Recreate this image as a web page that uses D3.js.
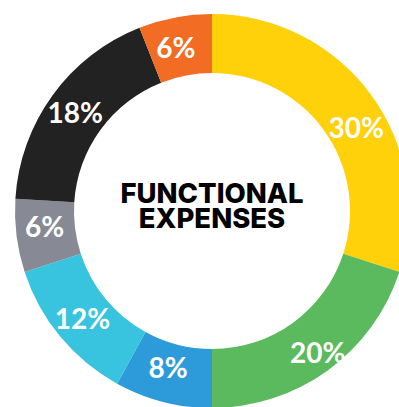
<!DOCTYPE html>
<html><head><meta charset="utf-8">
<script src="https://cdn.jsdelivr.net/npm/d3@7"></script>
<style>html,body{margin:0;padding:0;background:#fff;overflow:hidden}</style>
</head><body>
<svg id="c" width="399" height="407"></svg>
<script>
const categories = ["A","B","C","D","E","F","G"];
const values = [30, 20, 8, 12, 6, 18, 6];
const labels = ["30%","20%","8%","12%","6%","18%","6%"];
const colors = ["#FED10A","#5CBA5E","#2D9BD9","#38C3DF","#878A94","#222222","#F26C24"];
const titleLines = ["FUNCTIONAL","EXPENSES"];

const svg = d3.select("#c");
const cx = 212, cy = 211, rOuter = 197, rInner = 138;
const g = svg.append("g").attr("transform", `translate(${cx},${cy})`);
const pie = d3.pie().sort(null).value(d => d)(values);
const arc = d3.arc().innerRadius(rInner).outerRadius(rOuter);
g.selectAll("path").data(pie).join("path")
  .attr("d", arc).attr("fill", (d,i) => colors[i]);

// label placement tweaks (angle in degrees, radius in px)
const nudge = [5.7, -0.9, 1.3, 0, 2.1, 0, -1.6];
const lrad = [167, 176, 162, 168, 168, 169, 168];
const ang = (d,i) => (d.startAngle + d.endAngle)/2 + nudge[i]*Math.PI/180;
g.selectAll("text.lbl").data(pie).join("text").attr("class","lbl")
  .attr("x", (d,i) => lrad[i]*Math.sin(ang(d,i)))
  .attr("y", (d,i) => -lrad[i]*Math.cos(ang(d,i)))
  .attr("text-anchor","middle").attr("dominant-baseline","central")
  .attr("fill","#fff").attr("font-family","Lato, sans-serif").attr("font-weight","700")
  .attr("font-size", 28).text((d,i) => labels[i]);

const t = g.append("text").attr("text-anchor","middle").attr("font-family","Inter, sans-serif")
  .attr("font-weight","800").attr("font-size",27.5).attr("fill","#000");
titleLines.forEach((s,i) => t.append("tspan").attr("x",0).attr("y", -8 + i*25).text(s));
</script>
</body></html>
